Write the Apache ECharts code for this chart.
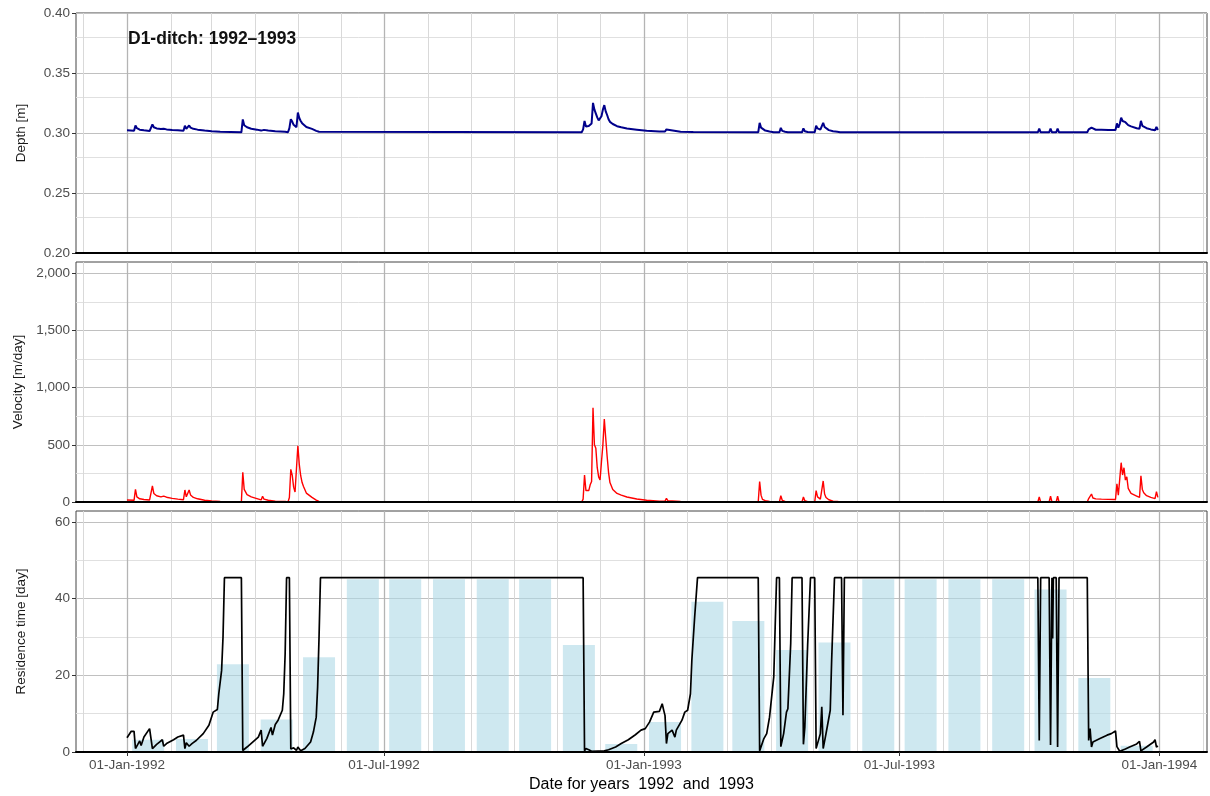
<!DOCTYPE html>
<html>
<head>
<meta charset="utf-8">
<title>D1-ditch: 1992–1993</title>
<script src="https://cdn.jsdelivr.net/npm/echarts@6/dist/echarts.min.js"></script>
<style>
  html, body { margin: 0; padding: 0; background: #fff; }
  #chart { width: 1210px; height: 796px; }
</style>
</head>
<body>
<div id="chart"></div>
<script>
// 时间轴范围与刻度
const xMin = '1991-11-25 21:20:00'
const xMax = '1994-02-03 19:00:00'
const majorTicks = ['1992-01-01', '1992-07-01', '1993-01-01', '1993-07-01', '1994-01-01']
const monthStarts = [
  '1991-12-01', '1992-01-01', '1992-02-01', '1992-03-01', '1992-04-01', '1992-05-01', '1992-06-01',
  '1992-07-01', '1992-08-01', '1992-09-01', '1992-10-01', '1992-11-01', '1992-12-01',
  '1993-01-01', '1993-02-01', '1993-03-01', '1993-04-01', '1993-05-01', '1993-06-01',
  '1993-07-01', '1993-08-01', '1993-09-01', '1993-10-01', '1993-11-01', '1993-12-01',
  '1994-01-01', '1994-02-01'
]

// y 轴刻度
const depthTicks = [0.20, 0.25, 0.30, 0.35, 0.40]
const depthMinor = [0.225, 0.275, 0.325, 0.375]
const velocityTicks = [0, 500, 1000, 1500, 2000]
const velocityMinor = [250, 750, 1250, 1750]
const residenceTicks = [0, 20, 40, 60]
const residenceMinor = [10, 30, 50]

// 水深 / 流速（同一组日期）
const flowDates = [
  '1992-01-01', '1992-01-06', '1992-01-07', '1992-01-08', '1992-01-10', '1992-01-13', '1992-01-17', '1992-01-19',
  '1992-01-20', '1992-01-22', '1992-01-25', '1992-01-27', '1992-01-29', '1992-02-02', '1992-02-06', '1992-02-10',
  '1992-02-11', '1992-02-12', '1992-02-13', '1992-02-14', '1992-02-15', '1992-02-17', '1992-02-20', '1992-02-25',
  '1992-03-01', '1992-03-07', '1992-03-08', '1992-03-22', '1992-03-23', '1992-03-24', '1992-03-26', '1992-03-29',
  '1992-04-02', '1992-04-05', '1992-04-06', '1992-04-07', '1992-04-10', '1992-04-15', '1992-04-22', '1992-04-24',
  '1992-04-25', '1992-04-26', '1992-04-27', '1992-04-28', '1992-04-29', '1992-04-30', '1992-05-01', '1992-05-02',
  '1992-05-03', '1992-05-04', '1992-05-05', '1992-05-07', '1992-05-11', '1992-05-14', '1992-05-16', '1992-05-17',
  '1992-11-18', '1992-11-19', '1992-11-20', '1992-11-21', '1992-11-22', '1992-11-23', '1992-11-24', '1992-11-25',
  '1992-11-26', '1992-11-27', '1992-11-28', '1992-11-29', '1992-11-30', '1992-12-01', '1992-12-02', '1992-12-03',
  '1992-12-04', '1992-12-05', '1992-12-06', '1992-12-07', '1992-12-08', '1992-12-10', '1992-12-13', '1992-12-16',
  '1992-12-20', '1992-12-27', '1993-01-03', '1993-01-12', '1993-01-16', '1993-01-17', '1993-01-18', '1993-01-27',
  '1993-02-05', '1993-02-06', '1993-03-23', '1993-03-24', '1993-03-25', '1993-03-26', '1993-03-28', '1993-03-31',
  '1993-04-03', '1993-04-07', '1993-04-08', '1993-04-09', '1993-04-11', '1993-04-13', '1993-04-23', '1993-04-24',
  '1993-04-25', '1993-04-27', '1993-04-28', '1993-05-02', '1993-05-03', '1993-05-04', '1993-05-05', '1993-05-06',
  '1993-05-07', '1993-05-08', '1993-05-09', '1993-05-10', '1993-05-12', '1993-05-15', '1993-05-18', '1993-05-20',
  '1993-10-07', '1993-10-08', '1993-10-09', '1993-10-15', '1993-10-16', '1993-10-17', '1993-10-20', '1993-10-21',
  '1993-10-22', '1993-11-11', '1993-11-12', '1993-11-13', '1993-11-14', '1993-11-15', '1993-11-17', '1993-11-21',
  '1993-11-26', '1993-12-01', '1993-12-02', '1993-12-03', '1993-12-04', '1993-12-05', '1993-12-06', '1993-12-07',
  '1993-12-08', '1993-12-09', '1993-12-10', '1993-12-12', '1993-12-16', '1993-12-18', '1993-12-19', '1993-12-20',
  '1993-12-21', '1993-12-23', '1993-12-26', '1993-12-29', '1993-12-30', '1993-12-31'
]
const depth = [
  0.3022, 0.3018, 0.3063, 0.3040, 0.3028, 0.3022, 0.3016, 0.3071,
  0.3048, 0.3038, 0.3034, 0.3036, 0.3030, 0.3025, 0.3022, 0.3018,
  0.3060, 0.3035, 0.3032, 0.3063, 0.3045, 0.3035, 0.3028, 0.3020,
  0.3014, 0.3010, 0.3006, 0.3006, 0.3113, 0.3065, 0.3048, 0.3036,
  0.3028, 0.3020, 0.3036, 0.3026, 0.3020, 0.3014, 0.3010, 0.3006,
  0.3040, 0.3115, 0.3095, 0.3068, 0.3052, 0.3048, 0.3171, 0.3125,
  0.3100, 0.3082, 0.3070, 0.3050, 0.3034, 0.3018, 0.3010, 0.3006,
  0.3006, 0.3030, 0.3101, 0.3055, 0.3051, 0.3058, 0.3070, 0.3079,
  0.3251, 0.3195, 0.3190, 0.3130, 0.3105, 0.3093, 0.3140, 0.3195,
  0.3232, 0.3180, 0.3150, 0.3115, 0.3093, 0.3075, 0.3057, 0.3048,
  0.3038, 0.3028, 0.3018, 0.3012, 0.3012, 0.3030, 0.3016, 0.3010,
  0.3008, 0.3006, 0.3006, 0.3085, 0.3045, 0.3030, 0.3020, 0.3012,
  0.3006, 0.3006, 0.3043, 0.3018, 0.3010, 0.3006, 0.3006, 0.3038,
  0.3015, 0.3008, 0.3006, 0.3006, 0.3060, 0.3038, 0.3030, 0.3028,
  0.3035, 0.3085, 0.3050, 0.3036, 0.3024, 0.3014, 0.3010, 0.3006,
  0.3006, 0.3037, 0.3006, 0.3006, 0.3037, 0.3006, 0.3006, 0.3037,
  0.3006, 0.3006, 0.3030, 0.3024, 0.3044, 0.3030, 0.3027, 0.3027,
  0.3026, 0.3025, 0.3080, 0.3045, 0.3075, 0.3128, 0.3100, 0.3115,
  0.3090, 0.3095, 0.3066, 0.3055, 0.3040, 0.3036, 0.3101, 0.3060,
  0.3050, 0.3040, 0.3030, 0.3023, 0.3050, 0.3025
]
const velocity = [
  18, 15, 111, 45, 28, 22, 18, 140,
  75, 55, 45, 52, 42, 32, 25, 20,
  105, 45, 40, 105, 62, 40, 28, 15,
  9, 4, 0, 0, 260, 110, 65, 45,
  30, 18, 50, 25, 15, 8, 4, 0,
  40, 286, 235, 130, 88, 72, 492, 330,
  230, 170, 135, 78, 40, 16, 5, 0,
  0, 25, 236, 100, 90, 100, 150, 180,
  825, 500, 470, 300, 220, 192, 352, 500,
  726, 560, 400, 260, 170, 110, 75, 60,
  44, 26, 15, 8, 8, 32, 12, 5,
  3, 0, 0, 178, 60, 23, 12, 5,
  0, 0, 55, 15, 5, 0, 0, 44,
  12, 3, 0, 0, 99, 45, 30, 25,
  40, 184, 70, 40, 20, 8, 4, 0,
  0, 44, 0, 0, 50, 0, 0, 50,
  0, 0, 30, 20, 70, 35, 27, 25,
  23, 22, 160, 60, 200, 344, 236, 300,
  192, 220, 120, 76, 52, 40, 230, 110,
  80, 55, 40, 30, 90, 40
]

// 停留时间（日序列）
const residenceDates = [
  '1992-01-01', '1992-01-04', '1992-01-06', '1992-01-07', '1992-01-10', '1992-01-11', '1992-01-13', '1992-01-17',
  '1992-01-18', '1992-01-19', '1992-01-22', '1992-01-24', '1992-01-26', '1992-01-27', '1992-01-29', '1992-02-03',
  '1992-02-06', '1992-02-10', '1992-02-11', '1992-02-12', '1992-02-13', '1992-02-14', '1992-02-16', '1992-02-19',
  '1992-02-24', '1992-02-28', '1992-03-02', '1992-03-05', '1992-03-06', '1992-03-08', '1992-03-09', '1992-03-10',
  '1992-03-22', '1992-03-23', '1992-03-26', '1992-03-30', '1992-04-03', '1992-04-05', '1992-04-06', '1992-04-09',
  '1992-04-12', '1992-04-13', '1992-04-15', '1992-04-17', '1992-04-20', '1992-04-21', '1992-04-22', '1992-04-23',
  '1992-04-25', '1992-04-26', '1992-04-28', '1992-04-30', '1992-05-01', '1992-05-03', '1992-05-06', '1992-05-10',
  '1992-05-12', '1992-05-14', '1992-05-15', '1992-05-16', '1992-05-17', '1992-11-19', '1992-11-20', '1992-11-21',
  '1992-11-23', '1992-11-25', '1992-12-04', '1992-12-07', '1992-12-12', '1992-12-16', '1992-12-21', '1992-12-26',
  '1992-12-30', '1993-01-02', '1993-01-05', '1993-01-08', '1993-01-12', '1993-01-14', '1993-01-15', '1993-01-16',
  '1993-01-17', '1993-01-18', '1993-01-21', '1993-01-22', '1993-01-23', '1993-01-24', '1993-01-28', '1993-01-30',
  '1993-02-01', '1993-02-03', '1993-02-04', '1993-02-06', '1993-02-08', '1993-03-23', '1993-03-24', '1993-03-27',
  '1993-03-29', '1993-03-31', '1993-04-03', '1993-04-04', '1993-04-05', '1993-04-07', '1993-04-08', '1993-04-10',
  '1993-04-12', '1993-04-13', '1993-04-15', '1993-04-16', '1993-04-23', '1993-04-24', '1993-04-25', '1993-04-27',
  '1993-04-29', '1993-05-02', '1993-05-03', '1993-05-06', '1993-05-07', '1993-05-08', '1993-05-10', '1993-05-13',
  '1993-05-14', '1993-05-16', '1993-05-21', '1993-05-22', '1993-05-23', '1993-10-07', '1993-10-08', '1993-10-09',
  '1993-10-15', '1993-10-16', '1993-10-17', '1993-10-17 12:00', '1993-10-18', '1993-10-20', '1993-10-21', '1993-10-22',
  '1993-11-11', '1993-11-12', '1993-11-13', '1993-11-14', '1993-11-15', '1993-11-20', '1993-11-25', '1993-11-28',
  '1993-12-01', '1993-12-02', '1993-12-04', '1993-12-08', '1993-12-11', '1993-12-16', '1993-12-18', '1993-12-19',
  '1993-12-23', '1993-12-28', '1993-12-29', '1993-12-30', '1993-12-31'
]
const residence = [
  3.7, 5.4, 5.4, 0.9, 2.9, 1.7, 3.9, 6.1,
  6.5, 0.9, 2.0, 2.6, 3.2, 1.5, 2.2, 3.2,
  3.9, 4.4, 0.9, 2.4, 2.6, 1.5, 2.2, 3.0,
  4.8, 7.0, 10.4, 11.1, 15.2, 21.3, 30, 45.5,
  45.5, 0.4, 1.3, 2.6, 3.9, 5.7, 1.5, 3.5,
  6.4, 4.4, 7.2, 8.3, 10.9, 15.2, 25.7, 45.5,
  45.5, 0.8, 1.1, 0.4, 1.3, 0.3, 0.9, 2.6,
  5.2, 9.1, 17, 30, 45.5, 45.5, 0.3, 0.9,
  0.6, 0.2, 0.3, 0.6, 1.3, 2.2, 3.2, 4.5,
  5.7, 6.1, 7.8, 10.4, 10.6, 12.6, 11, 9.5,
  2.2, 4.8, 5.7, 6.1, 3.9, 5.7, 8.3, 10.4,
  10.9, 15.2, 24, 35.3, 45.5, 45.5, 0.3, 3.5,
  4.8, 9.1, 19.6, 32.7, 45.5, 45.5, 1.4, 4.8,
  10.4, 11.3, 28.3, 45.5, 45.5, 2.0, 6.5, 28,
  45.5, 45.5, 0.9, 4.8, 11.8, 0.9, 4.8, 10.9,
  24, 45.5, 45.5, 9.6, 45.5, 45.5, 3.0, 45.5,
  45.5, 1.8, 45.5, 29.6, 45.5, 45.5, 1.3, 45.5,
  45.5, 3.0, 6.1, 1.3, 2.6, 3.5, 4.4, 4.8,
  5.5, 1.4, 0.2, 0.8, 1.3, 2.1, 2.8, 0.3,
  1.3, 2.6, 3.2, 1.3, 1.6
]

// 月平均停留时间（柱）
const monthMid = [
  '1992-01-16', '1992-02-16', '1992-03-16', '1992-04-16', '1992-05-16', '1992-06-16',
  '1992-07-16', '1992-08-16', '1992-09-16', '1992-10-16', '1992-11-16', '1992-12-16',
  '1993-01-16', '1993-02-15', '1993-03-16', '1993-04-16', '1993-05-16', '1993-06-16',
  '1993-07-16', '1993-08-16', '1993-09-16', '1993-10-16', '1993-11-16', '1993-12-16'
]
const monthlyResidence = [
  3.2, 3.4, 22.9, 8.5, 24.7, 45.1, 45.1, 45.1, 45.1, 45.1, 27.9, 2.1,
  7.8, 39.2, 34.2, 26.6, 28.6, 45.1, 45.1, 45.1, 45.1, 42.4, 19.3, 1.6
]

const FONT = '"Liberation Sans", Arial, sans-serif'
const MONTHS = ['Jan', 'Feb', 'Mar', 'Apr', 'May', 'Jun', 'Jul', 'Aug', 'Sep', 'Oct', 'Nov', 'Dec']
// 日期字符串 -> 本地时间戳（x 轴用数值轴承载时间戳）
const ts = (s) => {
  const [d, t] = s.split(' ')
  const [y, m, day] = d.split('-').map(Number)
  const [hh, mm] = (t || '00:00').split(':').map(Number)
  return new Date(y, m - 1, day, hh, mm).getTime()
}
const pairs = (d, v) => d.map((t, i) => [ts(t), v[i]])
const majorTs = majorTicks.map(ts)

const fmtDate = (v) => {
  const d = new Date(v)
  const dd = String(d.getDate()).padStart(2, '0')
  return dd + '-' + MONTHS[d.getMonth()] + '-' + d.getFullYear()
}

const majorV = { color: '#b4b4b4', width: 1.3, type: 'solid' }
const minorV = { color: '#d9d9d9', width: 1, type: 'solid' }
const minorH = { color: '#e0e0e0', width: 1, type: 'solid' }

// 网格线（作为 markLine 画在数据下面）
const gridLines = (minorValues) => ({
  silent: true,
  z: 1,
  symbol: ['none', 'none'],
  label: { show: false },
  animation: false,
  emphasis: { disabled: true },
  data: [
    ...minorValues.map(v => ({ yAxis: v, lineStyle: minorH })),
    ...monthStarts.map(m => ({ xAxis: ts(m), lineStyle: majorTicks.includes(m) ? majorV : minorV }))
  ]
})

const GRID_TOPS = [13, 262, 511]
const GRID_HEIGHTS = [240, 240, 241]

const grid = GRID_TOPS.map((top, i) => ({
  left: 76,
  right: 3,
  top,
  height: GRID_HEIGHTS[i],
  show: true,
  borderColor: '#444',
  borderWidth: 1,
  backgroundColor: 'transparent'
}))

const xAxis = [0, 1, 2].map(i => ({
  type: 'value',
  gridIndex: i,
  min: ts(xMin),
  max: ts(xMax),
  z: 10,
  axisLine: { show: true, onZero: false, lineStyle: { color: '#000', width: 2 } },
  axisTick: { show: i === 2, customValues: majorTs, length: 4, lineStyle: { color: '#333' } },
  axisLabel: {
    show: i === 2,
    customValues: majorTs,
    formatter: fmtDate,
    margin: 6,
    color: '#4d4d4d',
    fontSize: 13.5,
    fontFamily: FONT
  },
  splitLine: { show: false },
  name: i === 2 ? 'Date for years  1992  and  1993' : '',
  nameLocation: 'middle',
  nameGap: 25,
  nameTextStyle: { color: '#000', fontSize: 16, fontFamily: FONT }
}))

const yBase = (i, name, min, max, interval, ticks, fmt) => ({
  type: 'value',
  gridIndex: i,
  min,
  max,
  interval,
  axisLine: { show: false },
  axisTick: { show: true, customValues: ticks, length: 4, lineStyle: { color: '#333' } },
  axisLabel: { customValues: ticks, formatter: fmt, margin: 6, color: '#4d4d4d', fontSize: 13.5, fontFamily: FONT },
  splitLine: { show: true, lineStyle: { color: '#c0c0c0', width: 1.2 } },
  name,
  nameLocation: 'middle',
  nameGap: 48,
  nameTextStyle: { color: '#1a1a1a', fontSize: 13.5, fontFamily: FONT }
})

const yAxis = [
  yBase(0, 'Depth [m]', 0.2, 0.4, 0.05, depthTicks, v => v.toFixed(2)),
  yBase(1, 'Velocity [m/day]', 0, 2100, 500, velocityTicks, v => v.toLocaleString('en-US')),
  yBase(2, 'Residence time [day]', 0, 62.9, 20, residenceTicks, v => String(v))
]

const series = [
  { type: 'line', xAxisIndex: 0, yAxisIndex: 0, data: [], markLine: gridLines(depthMinor) },
  { type: 'line', xAxisIndex: 1, yAxisIndex: 1, data: [], markLine: gridLines(velocityMinor) },
  { type: 'line', xAxisIndex: 2, yAxisIndex: 2, data: [], markLine: gridLines(residenceMinor) },
  {
    name: 'Depth',
    type: 'line',
    xAxisIndex: 0,
    yAxisIndex: 0,
    z: 3,
    showSymbol: false,
    data: pairs(flowDates, depth),
    lineStyle: { color: '#00008b', width: 2 }
  },
  {
    name: 'Velocity',
    type: 'line',
    xAxisIndex: 1,
    yAxisIndex: 1,
    z: 3,
    showSymbol: false,
    data: pairs(flowDates, velocity),
    lineStyle: { color: '#ff0000', width: 1.4 }
  },
  {
    name: 'Monthly residence time',
    type: 'bar',
    xAxisIndex: 2,
    yAxisIndex: 2,
    z: 2,
    barWidth: 32,
    data: pairs(monthMid, monthlyResidence),
    itemStyle: { color: 'rgba(173, 216, 230, 0.6)' }
  },
  {
    name: 'Residence time',
    type: 'line',
    xAxisIndex: 2,
    yAxisIndex: 2,
    z: 3,
    showSymbol: false,
    data: pairs(residenceDates, residence),
    lineStyle: { color: '#000', width: 1.7 }
  }
]

const chart = echarts.init(document.getElementById('chart'), null, { renderer: 'canvas' })
chart.setOption({
  animation: false,
  backgroundColor: '#fff',
  title: {
    text: 'D1-ditch: 1992–1993',
    left: 128,
    top: 30,
    padding: 0,
    textStyle: { fontSize: 17.5, fontWeight: 'bold', color: '#111', fontFamily: FONT }
  },
  grid,
  xAxis,
  yAxis,
  series
})
</script>
</body>
</html>
